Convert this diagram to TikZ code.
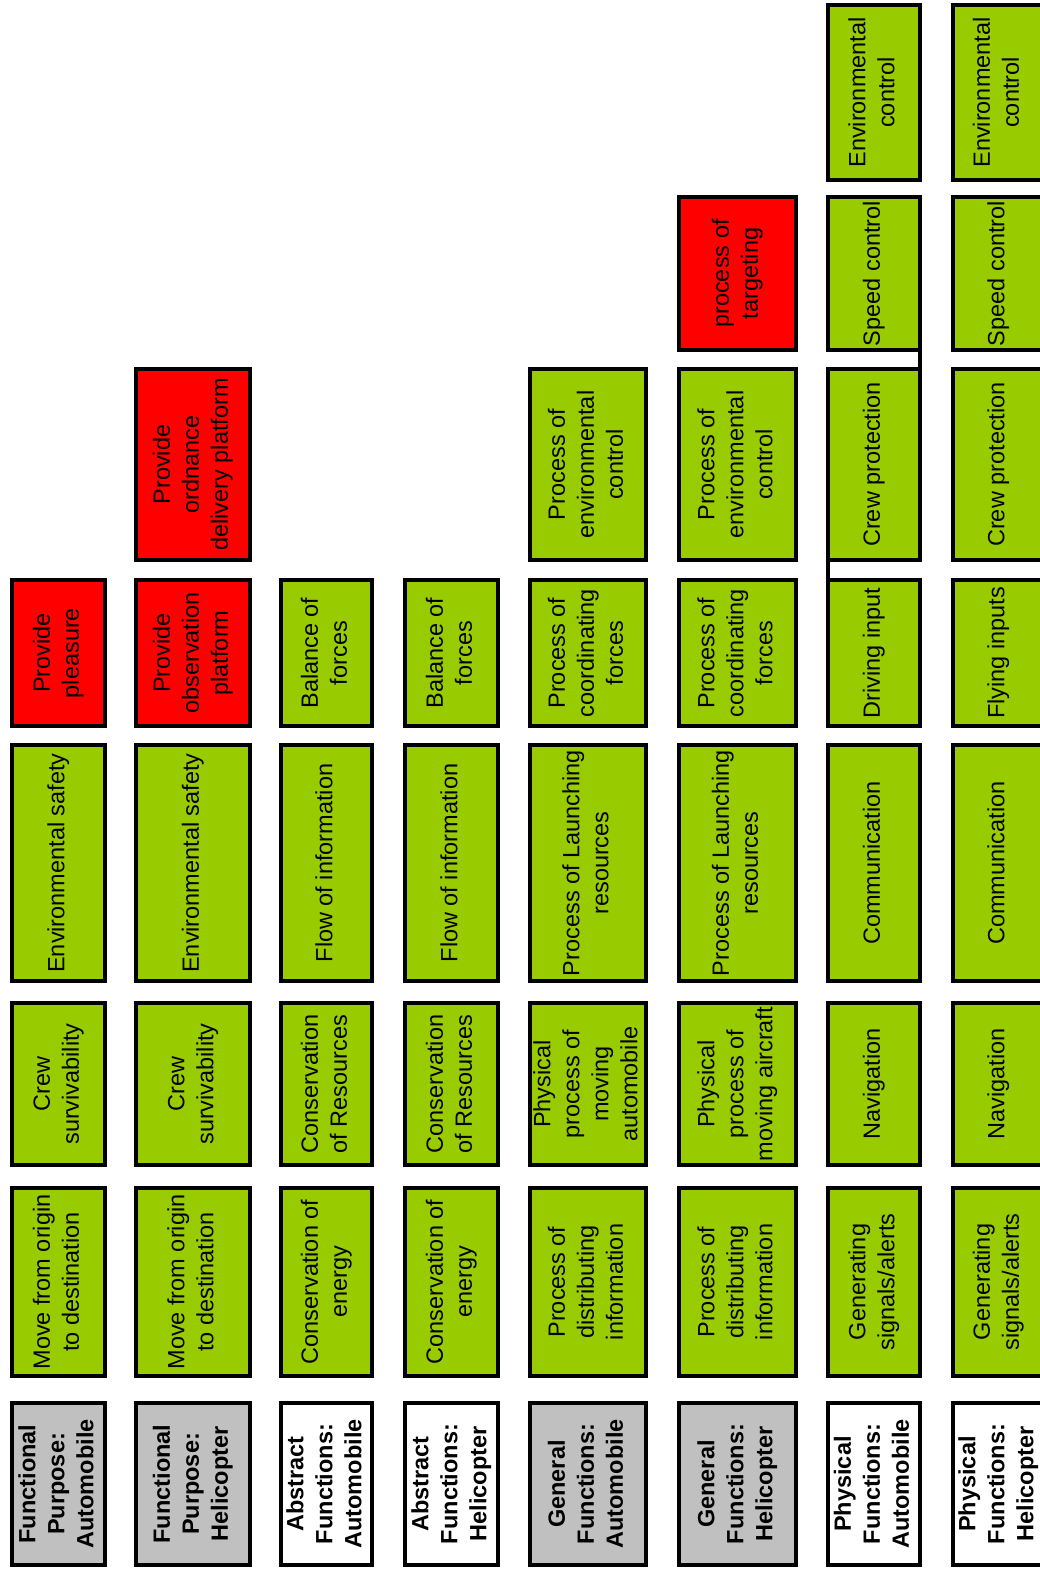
\documentclass[tikz,border=0pt]{standalone}
\usepackage{fontspec}
\setmainfont{Liberation Sans}
\usepackage{graphicx}
\definecolor{boxgreen}{HTML}{99CC00}
\definecolor{boxred}{HTML}{FF0000}
\definecolor{boxgray}{HTML}{C0C0C0}
\tikzset{
  cellbase/.style={draw=black, line width=4pt, rectangle, inner sep=0pt, outer sep=0pt,
    font=\fontsize{23.5}{29}\selectfont, text=black},
  gbox/.style={cellbase, fill=boxgreen},
  rbox/.style={cellbase, fill=boxred},
  graylabel/.style={cellbase, fill=boxgray, font=\fontsize{23.5}{29}\selectfont\bfseries},
  whitelabel/.style={cellbase, fill=white, font=\fontsize{23.5}{29}\selectfont\bfseries},
  link/.style={draw=black, line width=4pt},
}
\newcommand\rt[1]{\rotatebox{90}{\begin{tabular}{@{}c@{}}#1\end{tabular}}}
\newcommand\defcol[3]{\expandafter\def\csname colL#1\endcsname{#2}\expandafter\def\csname colR#1\endcsname{#3}}
\newcommand\defrow[3]{\expandafter\def\csname rowT#1\endcsname{#2}\expandafter\def\csname rowB#1\endcsname{#3}}
\defcol{1}{10}{107}
\defcol{2}{134}{252}
\defcol{3}{279}{374}
\defcol{4}{403}{500}
\defcol{5}{528}{648}
\defcol{6}{677}{798}
\defcol{7}{826}{922}
\defcol{8}{951}{1046}
\defrow{A}{1401}{1567}
\defrow{B}{1186}{1378}
\defrow{C}{1001}{1167}
\defrow{D}{743}{983}
\defrow{E}{578}{728}
\defrow{F}{367}{562}
\defrow{G}{195}{352}
\defrow{H}{3}{182}
% #1 name, #2 style, #3 column, #4 row, #5 text
\newcommand\mycell[5]{%
  \node[#2,
    minimum width={\csname colR#3\endcsname-\csname colL#3\endcsname-4},
    minimum height={\csname rowB#4\endcsname-\csname rowT#4\endcsname-4}]
    (#1) at ({(\csname colL#3\endcsname+\csname colR#3\endcsname)/2},{(\csname rowT#4\endcsname+\csname rowB#4\endcsname)/2}) {\rt{#5}};}
\begin{document}
\begin{tikzpicture}[x=1pt,y=-1pt]
\useasboundingbox (0,0) rectangle (1040,1569);
\fill[white] (0,0) rectangle (1040,1569);
\clip (0,0) rectangle (1040,1569);
% Column 1
\mycell{a1}{graylabel}{1}{A}{Functional\\Purpose:\\Automobile}
\mycell{b1}{gbox}{1}{B}{Move from origin\\to destination}
\mycell{c1}{gbox}{1}{C}{Crew\\survivability}
\mycell{d1}{gbox}{1}{D}{Environmental safety}
\mycell{e1}{rbox}{1}{E}{Provide\\pleasure}
% Column 2
\mycell{a2}{graylabel}{2}{A}{Functional\\Purpose:\\Helicopter}
\mycell{b2}{gbox}{2}{B}{Move from origin\\to destination}
\mycell{c2}{gbox}{2}{C}{Crew\\survivability}
\mycell{d2}{gbox}{2}{D}{Environmental safety}
\mycell{e2}{rbox}{2}{E}{Provide\\observation\\platform}
\mycell{f2}{rbox}{2}{F}{Provide\\ordnance\\delivery platform}
% Column 3
\mycell{a3}{whitelabel}{3}{A}{Abstract\\Functions:\\Automobile}
\mycell{b3}{gbox}{3}{B}{Conservation of\\energy}
\mycell{c3}{gbox}{3}{C}{Conservation\\of Resources}
\mycell{d3}{gbox}{3}{D}{Flow of information}
\mycell{e3}{gbox}{3}{E}{Balance of\\forces}
% Column 4
\mycell{a4}{whitelabel}{4}{A}{Abstract\\Functions:\\Helicopter}
\mycell{b4}{gbox}{4}{B}{Conservation of\\energy}
\mycell{c4}{gbox}{4}{C}{Conservation\\of Resources}
\mycell{d4}{gbox}{4}{D}{Flow of information}
\mycell{e4}{gbox}{4}{E}{Balance of\\forces}
% Column 5
\mycell{a5}{graylabel}{5}{A}{General\\Functions:\\Automobile}
\mycell{b5}{gbox}{5}{B}{Process of\\distributing\\information}
\mycell{c5}{gbox}{5}{C}{Physical\\process of\\moving\\automobile}
\mycell{d5}{gbox}{5}{D}{Process of Launching\\resources}
\mycell{e5}{gbox}{5}{E}{Process of\\coordinating\\forces}
\mycell{f5}{gbox}{5}{F}{Process of\\environmental\\control}
% Column 6
\mycell{a6}{graylabel}{6}{A}{General\\Functions:\\Helicopter}
\mycell{b6}{gbox}{6}{B}{Process of\\distributing\\information}
\mycell{c6}{gbox}{6}{C}{Physical\\process of\\moving aircraft}
\mycell{d6}{gbox}{6}{D}{Process of Launching\\resources}
\mycell{e6}{gbox}{6}{E}{Process of\\coordinating\\forces}
\mycell{f6}{gbox}{6}{F}{Process of\\environmental\\control}
\mycell{g6}{rbox}{6}{G}{process of\\targeting}
% Column 7
\mycell{a7}{whitelabel}{7}{A}{Physical\\Functions:\\Automobile}
\mycell{b7}{gbox}{7}{B}{Generating\\signals/alerts}
\mycell{c7}{gbox}{7}{C}{Navigation}
\mycell{d7}{gbox}{7}{D}{Communication}
\mycell{e7}{gbox}{7}{E}{Driving input}
\mycell{f7}{gbox}{7}{F}{Crew protection}
\mycell{g7}{gbox}{7}{G}{Speed control}
\mycell{h7}{gbox}{7}{H}{Environmental\\control}
% Column 8
\mycell{a8}{whitelabel}{8}{A}{Physical\\Functions:\\Helicopter}
\mycell{b8}{gbox}{8}{B}{Generating\\signals/alerts}
\mycell{c8}{gbox}{8}{C}{Navigation}
\mycell{d8}{gbox}{8}{D}{Communication}
\mycell{e8}{gbox}{8}{E}{Flying inputs}
\mycell{f8}{gbox}{8}{F}{Crew protection}
\mycell{g8}{gbox}{8}{G}{Speed control}
\mycell{h8}{gbox}{8}{H}{Environmental\\control}
% connectors in column 7
\draw[link] (f7.south west) -- (e7.north west);
\draw[link] (g7.south east) -- (f7.north east);
\end{tikzpicture}
\end{document}
